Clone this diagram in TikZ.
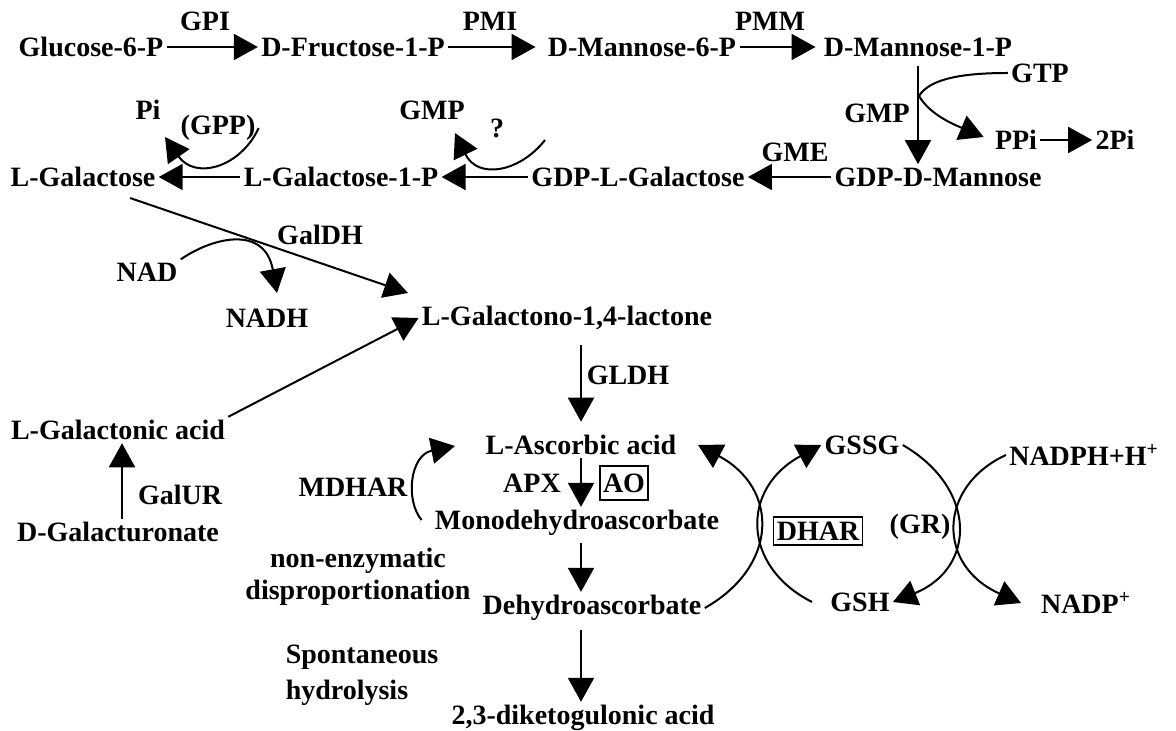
\documentclass[tikz,border=0pt]{standalone}
\usepackage{fontspec}
\setmainfont{Liberation Serif}
\usetikzlibrary{arrows.meta,positioning}

\begin{document}
\begin{tikzpicture}[
  x=0.5pt, y=-0.5pt,
  met/.style={font=\fontsize{14}{16}\selectfont\bfseries, inner sep=1.5pt},
  boxed/.style={met, draw, line width=0.6pt, inner xsep=1.5pt, minimum height=14pt},
  arr/.style={-{Triangle[length=12pt,width=13pt]}, line width=1pt},
  lnk/.style={line width=1pt}
]
\useasboundingbox[fill=white] (0,0) rectangle (1176,731);

% Mannose branch
\node[met] (glc) at (91,47) {Glucose-6-P};
\node[met] (fru) at (353,47) {D-Fructose-1-P};
\node[met] (man6) at (642,47) {D-Mannose-6-P};
\node[met] (man1) at (918,47) {D-Mannose-1-P};
\node[met] (gpi) at (205,21) {GPI};
\node[met] (pmi) at (490,21) {PMI};
\node[met] (pmm) at (770,21) {PMM};

\node[met] (gtp) at (1040,73) {GTP};
\node[met] (gmpa) at (877,113) {GMP};
\node[met] (ppi) at (1016,140) {PPi};
\node[met] (twopi) at (1115,140) {2Pi};

% Second row
\node[met] (gdpdman) at (938,177) {GDP-D-Mannose};
\node[met] (gdplgal) at (638,177) {GDP-L-Galactose};
\node[met] (lgal1p) at (341,177) {L-Galactose-1-P};
\node[met] (lgal) at (83,177) {L-Galactose};
\node[met] (gme) at (795,152) {GME};
\node[met] (pi) at (148,110) {Pi};
\node[met] (gpp) at (218,128) {(GPP)};
\node[met] (gmpb) at (432,110) {GMP};
\node[met] (qm) at (497,128) {?};

% Galactose / galacturonate branches
\node[met] (galdh) at (320,235) {GalDH};
\node[met] (nad) at (147,272) {NAD};
\node[met] (nadh) at (267,318) {NADH};
\node[met] (lgall) at (567,318) {L-Galactono-1,4-lactone};
\node[met] (lgala) at (118,430) {L-Galactonic acid};
\node[met] (galur) at (180,495) {GalUR};
\node[met] (dgalu) at (118,532) {D-Galacturonate};

% Ascorbate column
\node[met] (gldh) at (628,375) {GLDH};
\node[met] (asc) at (581,445) {L-Ascorbic acid};
\node[met] (apx) at (532,483) {APX};
\node[boxed, minimum height=17pt] (ao) at (624,483) {AO};
\node[met] (mdha) at (577,523) {Monodehydroascorbate};
\node[met] (dha) at (592,608) {Dehydroascorbate};
\node[met] (dkg) at (583,718) {2,3-diketogulonic acid};
\node[met] (mdhar) at (353,487) {MDHAR};
\node[met, align=center] (nonenz) at (358,577) {non-enzymatic\\disproportionation};
\node[met, align=left] (spont) at (362,675) {Spontaneous\\[2pt]hydrolysis};

% Glutathione cycle
\node[met] (gssg) at (862,445) {GSSG};
\node[met] (nadph) at (1084,455) {NADPH+H\textsuperscript{+}};
\node[boxed] (dhar) at (818,531) {DHAR};
\node[met] (gr) at (920,527) {(GR)};
\node[met] (gsh) at (860,602) {GSH};
\node[met] (nadp) at (1086,603) {NADP\textsuperscript{+}};

% free ends
\coordinate (piTip) at (165,137);
\coordinate (gmpStart) at (545,140);
\coordinate (gmpTip) at (455,133);
\coordinate (galdhStart) at (130,198);
\coordinate (galdhTip) at (408,293);
\coordinate (nadhTip) at (277,293);
\coordinate (mdharTip) at (455,446);
\coordinate (ascTip) at (698,445);
\coordinate (gshStart) at (812,602);
\coordinate (nadpTip) at (1021,603);

% Horizontal arrows
\draw[arr] (glc.east) -- (fru.west);
\draw[arr, shorten >=4.5pt] (fru.east) -- (man6.west);
\draw[arr, shorten >=2.5pt] (man6.east) -- (man1.west);
\draw[arr] (ppi.east) -- (twopi.west);
\draw[arr] (gdpdman.west) -- (gdplgal.east);
\draw[arr] (gdplgal.west) -- (lgal1p.east);
\draw[arr] (lgal1p.west) -- (lgal.east);

% Vertical arrows
\draw[arr, shorten <=3pt] (man1.south) -- (man1.south |- gdpdman.north);
\draw[arr, shorten <=6pt, shorten >=5pt] (asc.north |- lgall.south) -- (asc.north);
\draw[arr] (asc.south) -- (asc.south |- mdha.north);
\draw[arr, shorten <=2pt] (asc.south |- mdha.south) -- (asc.south |- dha.north);
\draw[arr, shorten <=3pt] (asc.south |- dha.south) -- (asc.south |- dkg.north);
\draw[arr] (dgalu.north -| 122,0) -- (lgala.south -| 122,0);

% Side reactions
\draw[arr] (gtp.west) .. controls (965,73) and (930,78) .. (919,96)
  .. controls (930,115) and (955,125) .. ([shift={(-8,-3)}]ppi.west);
\draw[arr] (gpp.east) .. controls (240,168) and (195,180) .. (piTip);
\draw[arr] (gmpStart) .. controls (520,172) and (478,180) .. (gmpTip);
\draw[arr] (galdhStart) -- (galdhTip);
\draw[arr] (nad.north east) .. controls (215,236) and (265,226) .. (nadhTip);
\draw[arr] (lgala.north east) -- (lgall.west);
\draw[arr] ([shift={(-10,-3)}]mdha.west) .. controls (405,500) and (410,455) .. (mdharTip);

% DHAR and GR crossings
\draw[arr] (dha.east) .. controls (779,566) and (779,488) .. (ascTip);
\draw[arr] (gshStart) .. controls (741,566) and (741,488) .. (gssg.west);
\draw[arr] (gssg.east) .. controls (977,488) and (977,568) .. (gsh.east);
\draw[arr] (nadph.west) .. controls (937,487) and (937,566) .. (nadpTip);

\end{tikzpicture}
\end{document}
